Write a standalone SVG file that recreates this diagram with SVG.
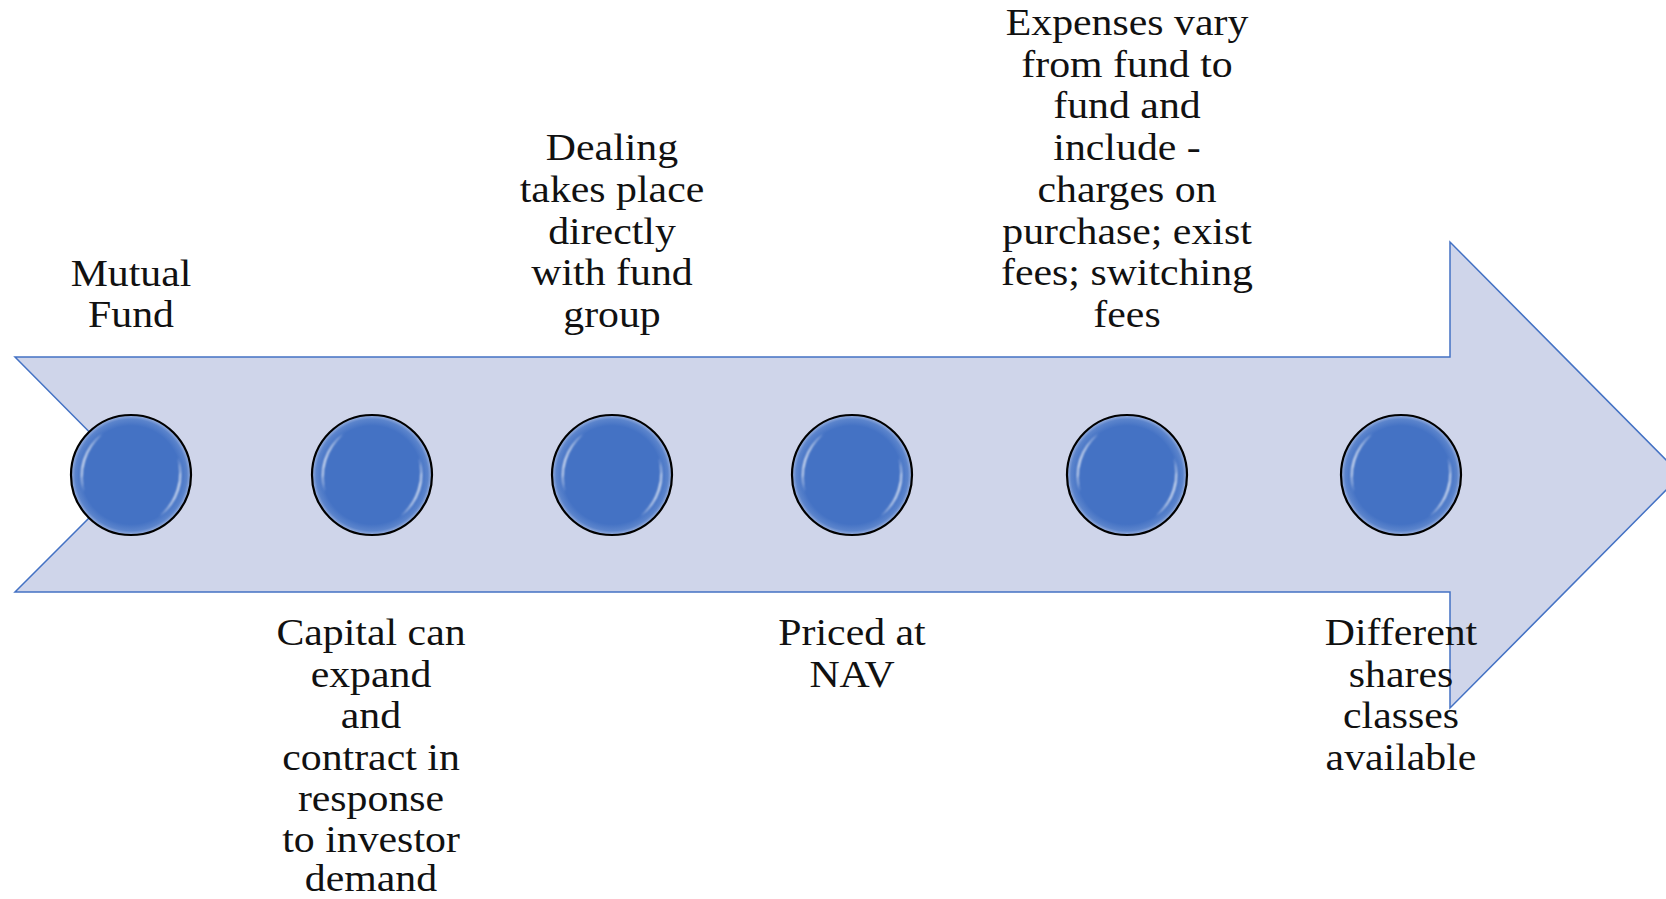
<svg xmlns="http://www.w3.org/2000/svg" width="1666" height="899" viewBox="0 0 1666 899">
  <style>
    .lbl { font-family: "Liberation Serif", "Times New Roman", serif; font-size: 37px; fill: #111; text-anchor: middle; }
    .arrow { fill: #CFD5EA; stroke: #4472C4; stroke-width: 1.5; }
    .ring { stroke: #000; stroke-width: 2.2; }
  </style>
  <defs>
    <radialGradient id="beadFill" cx="0.5" cy="0.5" r="0.5">
      <stop offset="0" stop-color="#4472C4"/>
      <stop offset="0.82" stop-color="#4472C4"/>
      <stop offset="0.93" stop-color="#5B84CC"/>
      <stop offset="1" stop-color="#9DB3E0"/>
    </radialGradient>
    <filter id="soft" x="-20%" y="-20%" width="140%" height="140%">
      <feGaussianBlur stdDeviation="1"/>
    </filter>
    <g id="bead">
      <circle r="60" fill="url(#beadFill)" class="ring"/>
      <path d="M -46.98 17.10 A 50 50 0 0 1 -28.68 -40.96 A 58 58 0 0 0 -46.98 17.10 Z" fill="#FFFFFF" filter="url(#soft)"/>
      <path d="M -46.98 17.10 A 50 50 0 0 1 -28.68 -40.96 A 58 58 0 0 0 -46.98 17.10 Z" fill="#FFFFFF" filter="url(#soft)" transform="rotate(180)"/>
    </g>
  </defs>
  <rect width="1666" height="899" fill="#FFFFFF"/>

  <g id="timeline-arrow">
    <path class="arrow" d="M 15 357 L 1450 357 L 1450 242 L 1681 475 L 1450 708 L 1450 592 L 15 592 L 132 475 Z"/>
  </g>

  <g id="connectors"></g>

  <g id="node-mutual-fund">
    <use href="#bead" x="131" y="475"/>
    <text class="lbl" transform="translate(131 0) scale(1.13 1)"><tspan x="0" y="286">Mutual</tspan><tspan x="0" y="327">Fund</tspan></text>
  </g>

  <g id="node-capital">
    <use href="#bead" x="372" y="475"/>
    <text class="lbl" transform="translate(371 0) scale(1.13 1)"><tspan x="0" y="645">Capital can</tspan><tspan x="0" y="687">expand</tspan><tspan x="0" y="728">and</tspan><tspan x="0" y="770">contract in</tspan><tspan x="0" y="811">response</tspan><tspan x="0" y="852">to investor</tspan><tspan x="0" y="891">demand</tspan></text>
  </g>

  <g id="node-dealing">
    <use href="#bead" x="612" y="475"/>
    <text class="lbl" transform="translate(612 0) scale(1.13 1)"><tspan x="0" y="160">Dealing</tspan><tspan x="0" y="202">takes place</tspan><tspan x="0" y="244">directly</tspan><tspan x="0" y="285">with fund</tspan><tspan x="0" y="327">group</tspan></text>
  </g>

  <g id="node-priced">
    <use href="#bead" x="852" y="475"/>
    <text class="lbl" transform="translate(852 0) scale(1.13 1)"><tspan x="0" y="645">Priced at</tspan><tspan x="0" y="687">NAV</tspan></text>
  </g>

  <g id="node-expenses">
    <use href="#bead" x="1127" y="475"/>
    <text class="lbl" transform="translate(1127 0) scale(1.13 1)"><tspan x="0" y="35">Expenses vary</tspan><tspan x="0" y="77">from fund to</tspan><tspan x="0" y="118">fund and</tspan><tspan x="0" y="160">include -</tspan><tspan x="0" y="202">charges on</tspan><tspan x="0" y="244">purchase; exist</tspan><tspan x="0" y="285">fees; switching</tspan><tspan x="0" y="327">fees</tspan></text>
  </g>

  <g id="node-share-classes">
    <use href="#bead" x="1401" y="475"/>
    <text class="lbl" transform="translate(1401 0) scale(1.13 1)"><tspan x="0" y="645">Different</tspan><tspan x="0" y="687">shares</tspan><tspan x="0" y="728">classes</tspan><tspan x="0" y="770">available</tspan></text>
  </g>
</svg>
